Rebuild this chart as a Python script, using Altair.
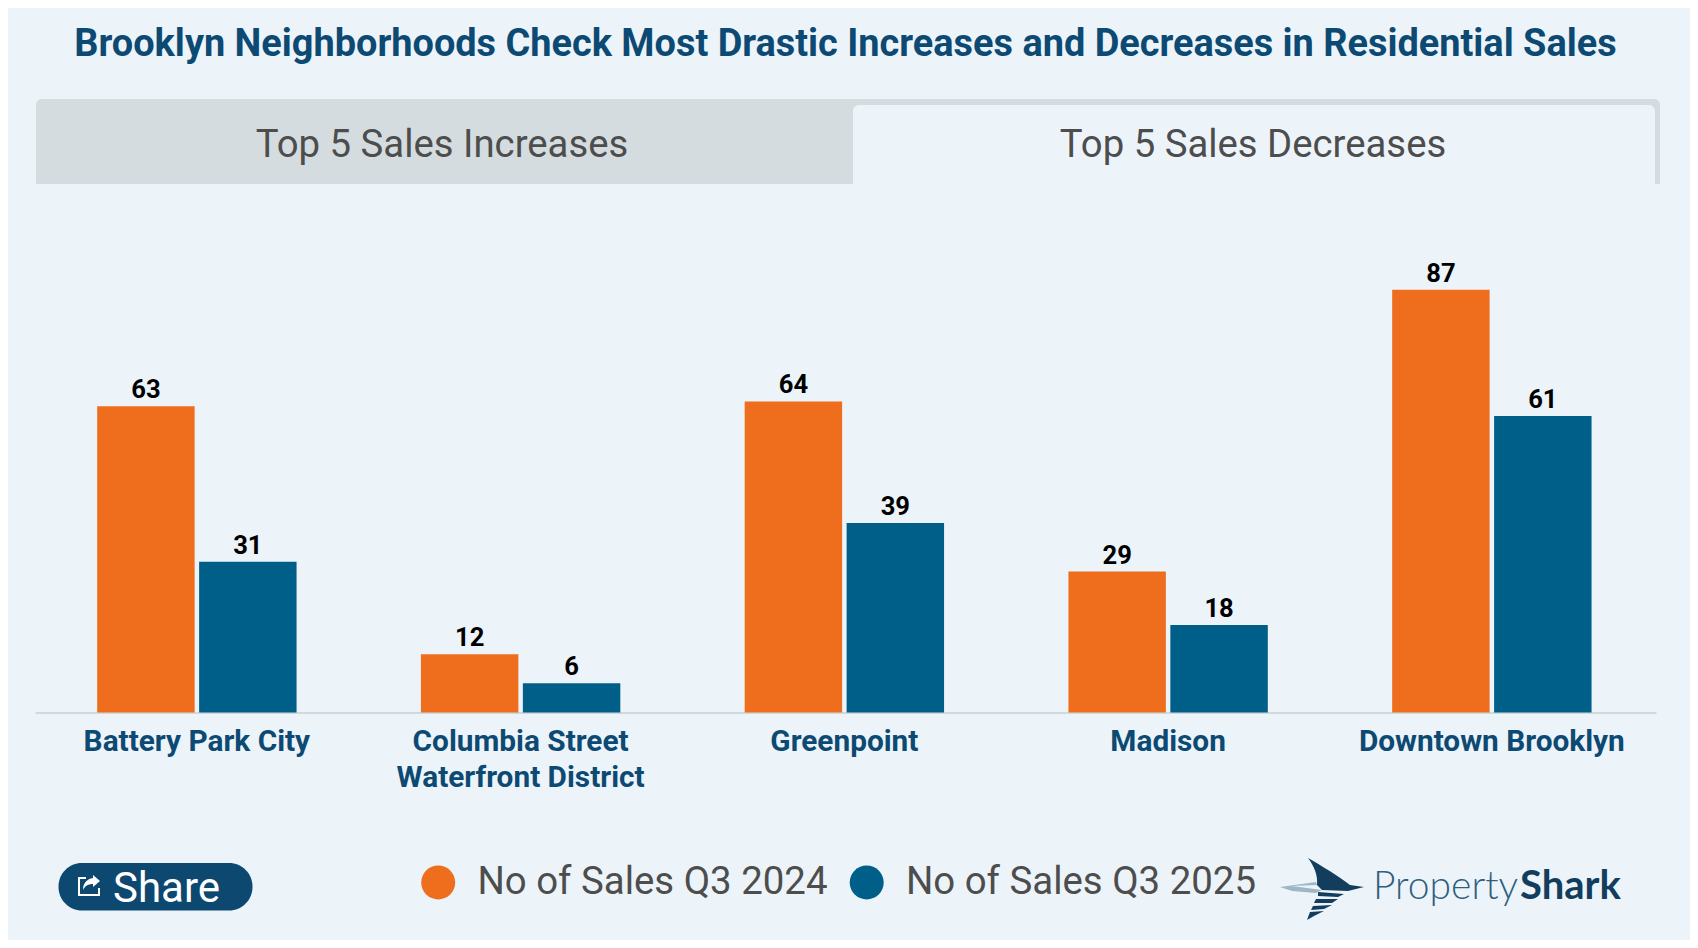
import altair as alt
import pandas as pd

neighborhoods = ["Battery Park City", "Columbia Street Waterfront District", "Greenpoint", "Madison", "Downtown Brooklyn"]
sales_2024 = [63, 12, 64, 29, 87]
sales_2025 = [31, 6, 39, 18, 61]
series_names = ["No of Sales Q3 2024", "No of Sales Q3 2025"]
series_colors = ["#ef6e1e", "#005f88"]
title_text = "Brooklyn Neighborhoods Check Most Drastic Increases and Decreases in Residential Sales"
tab_labels = ["Top 5 Sales Increases", "Top 5 Sales Decreases"]

BG = "#ecf4fa"
NAVY = "#0c4870"
GREY_TEXT = "#4d4d4d"
TAB_GREY = "#d4dcdf"
LOGO = "#133d5c"

# page px -> view px (view origin on the page)
OX, OY = 35, 199.5
def X(v): return alt.value(v - OX)
def Y(v): return alt.value(v - OY)

one = alt.Data(values=[{"k": 0}])

rows = []
for n, a, b in zip(neighborhoods, sales_2024, sales_2025):
    rows.append({"hood": n, "series": series_names[0], "sales": a})
    rows.append({"hood": n, "series": series_names[1], "sales": b})
df = pd.DataFrame(rows)

x_enc = alt.X("hood:N", sort=neighborhoods, title=None,
              scale=alt.Scale(paddingInner=0, paddingOuter=0.0035, align=0),
              axis=alt.Axis(labelExpr="split(replace(datum.label,'Street ','Street|'),'|')",
                            labelAngle=0, labelFont="Roboto", labelFontWeight="bold",
                            labelFontSize=29.8, labelColor="#0d4a73", labelLineHeight=36,
                            labelPadding=14, labelLimit=500, labelOverlap=False,
                            ticks=False, grid=False, domainColor="#d0dadd", domainWidth=2))
y_enc = alt.Y("sales:Q", axis=None, scale=alt.Scale(domain=[0, 105.55], nice=False))
off_enc = alt.XOffset("series:N", sort=series_names,
                      scale=alt.Scale(paddingInner=0.044, paddingOuter=0.61))

bars = alt.Chart(df).mark_bar().encode(
    x=x_enc, y=y_enc, xOffset=off_enc,
    color=alt.Color("series:N", sort=series_names,
                    scale=alt.Scale(domain=series_names, range=series_colors),
                    legend=alt.Legend(orient="none", legendX=419 - OX, legendY=863 - OY,
                                      direction="horizontal", title=None, symbolType="circle",
                                      symbolSize=1156, symbolStrokeWidth=0, symbolOpacity=1,
                                      labelFont="Roboto", labelFontSize=38.4, labelColor=GREY_TEXT,
                                      labelOffset=20, columnPadding=19.5, labelLimit=500)),
)
values = alt.Chart(df).mark_text(font="Roboto", fontWeight="bold", fontSize=25.6, color="#000000",
                                 baseline="bottom", dy=-3).encode(
    x=x_enc, y=y_enc, xOffset=off_enc, text="sales:Q")


def rect(x0, x1, y0, y1, color, **kw):
    return alt.Chart(one).mark_rect(color=color, **kw).encode(x=X(x0), x2=X(x1), y=Y(y0), y2=Y(y1))

def label(x, y, text, size, color, align="center", weight="normal", font="Roboto"):
    return alt.Chart(one).mark_text(text=text, font=font, fontSize=size, color=color, align=align,
                                    baseline="alphabetic", fontWeight=weight).encode(x=X(x), y=Y(y))

def shape(points_path, cx, cy, r, fill=None, stroke=None, sw=1):
    kw = {}
    if fill:
        kw.update(filled=True, fill=fill, strokeWidth=0, opacity=1)
    else:
        kw.update(filled=False, stroke=stroke, strokeWidth=sw, opacity=1)
    return alt.Chart(one).mark_point(shape=points_path, size=(2 * r) ** 2, **kw).encode(x=X(cx), y=Y(cy))

def norm(cmds, cx, cy, r):
    out = []
    for c in cmds:
        if isinstance(c, str):
            out.append(c)
        else:
            out.append(f"{(c[0]-cx)/r:.3f} {(c[1]-cy)/r:.3f}")
    return " ".join(out)

# logo shapes drawn in page px around one centre
LC = (1320, 888, 60)
fin = norm(["M", (1308, 858), "C", (1322, 866), (1338, 876), (1350, 885), "L", (1364, 887), "L", (1348, 891),
            "L", (1322, 890), "L", (1317, 885), "C", (1318, 875), (1314, 866), (1308, 858), "Z"], *LC)
streak = norm(["M", (1280, 887), "L", (1316, 882), "L", (1317, 885), "L", (1292, 886), "L", (1322, 890),
               "L", (1316, 893), "L", (1292, 891), "Z"], *LC)
stripes = norm(["M", (1318, 892), "L", (1344, 894), "L", (1338, 897), "L", (1318, 896), "Z",
                "M", (1316, 899), "L", (1338, 899), "L", (1332, 903), "L", (1314, 903), "Z",
                "M", (1313, 906), "L", (1332, 905), "L", (1324, 909), "L", (1311, 910), "Z",
                "M", (1310, 912), "L", (1324, 911), "L", (1314, 916), "L", (1307, 920), "Z"], *LC)

SC = (89, 885, 11)
icon_box = norm(["M", (86, 878), "L", (79, 878), "L", (79, 895), "L", (99, 895), "L", (99, 888)], *SC)
icon_arrow = norm(["M", (93, 875), "L", (100, 881), "L", (93, 887), "L", (93, 884), "C", (88, 884), (85, 886),
                   (83, 890), "C", (83, 883), (87, 879), (93, 878), "Z"], *SC)

layers = [
    rect(36, 1660, 99, 184, TAB_GREY, cornerRadiusTopLeft=6, cornerRadiusTopRight=6),
    rect(853, 1655, 105, 184, BG, cornerRadiusTopLeft=6, cornerRadiusTopRight=6),
    label(442, 157, tab_labels[0], 38.3, GREY_TEXT),
    label(1253, 157, tab_labels[1], 38.3, GREY_TEXT),
    bars,
    values,
    rect(58.5, 252.5, 863, 910.5, NAVY, cornerRadius=23.5),
    label(113, 902, "Share", 42, "#ffffff", align="left"),
    shape(icon_box, *SC, stroke="#ffffff", sw=2),
    shape(icon_arrow, *SC, fill="#ffffff"),
    shape(fin, *LC, fill=LOGO),
    shape(streak, *LC, fill="#9fb6c6"),
    shape(stripes, *LC, fill=LOGO),
    label(1373, 899, "Property", 39, "#2f5f80", align="left", font="Lato", weight=300),
    label(1520, 899, "Shark", 40, LOGO, align="left", weight="bold", font="Lato"),
]

chart = alt.layer(*layers).resolve_scale(x="shared", y="shared").properties(
    width=1621, height=513,
    background=BG,
    padding={"left": 27, "top": 191.5, "right": 34, "bottom": 227.5},
    autosize=alt.AutoSizeParams(type="none"),
    title=alt.TitleParams(title_text, anchor="middle", font="Roboto", fontWeight="bold", fontSize=37.9,
                          color="#0d4a73", offset=35),
).configure_view(stroke=None)

chart.save("out.html", embed_options={"renderer": "svg", "actions": False})
